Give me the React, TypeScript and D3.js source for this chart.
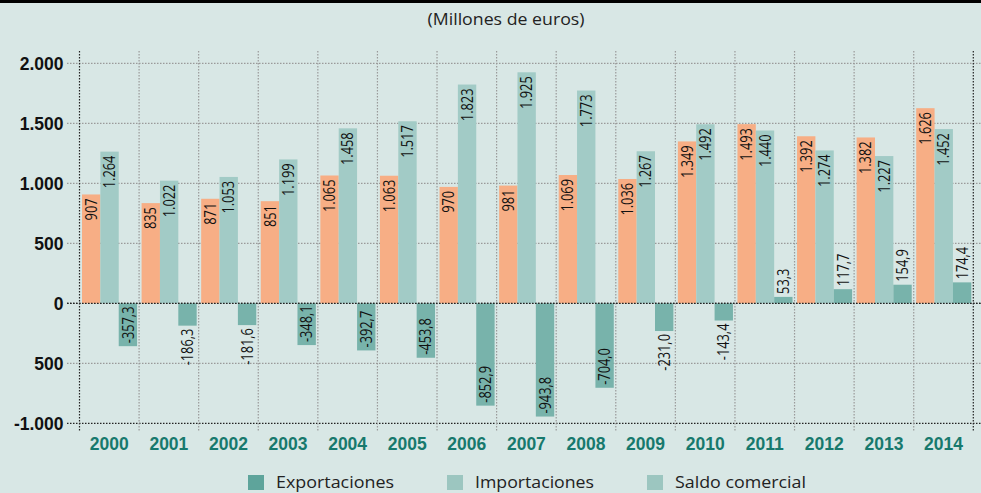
import React from 'react';
import * as d3 from 'd3';

const years = ['2000','2001','2002','2003','2004','2005','2006','2007','2008','2009','2010','2011','2012','2013','2014'];
const exportaciones = [907, 835, 871, 851, 1065, 1063, 970, 981, 1069, 1036, 1349, 1493, 1392, 1382, 1626];
const importaciones = [1264, 1022, 1053, 1199, 1458, 1517, 1823, 1925, 1773, 1267, 1492, 1440, 1274, 1227, 1452];
const saldo = [-357.3, -186.3, -181.6, -348.1, -392.7, -453.8, -852.9, -943.8, -704.0, -231.0, -143.4, 53.3, 117.7, 154.9, 174.4];
const yTicks = [2000, 1500, 1000, 500, 0, -500, -1000];
const yTickLabels = ['2.000', '1.500', '1.000', '500', '0', '500', '-1.000'];
const legendLabels = ['Exportaciones', 'Importaciones', 'Saldo comercial'];
const titleText = '(Millones de euros)';

const BG = '#d8e7e5';
const C_EXP = '#f7ae85';
const C_IMP = '#a2cbc6';
const C_SAL = '#78b3ab';
const legendColors = ['#5ea49b', '#9cc6c0', '#9cc6c0'];

export default function App() {
  const W = 981, H = 493;
  const y = d3.scaleLinear().domain([-1000, 2000]).range([423.3, 63.3]);
  const x = d3.scaleBand<string>().domain(years).range([79.5, 973.3]).padding(0);
  const bw = x.bandwidth();
  const x1 = d3.scaleBand<string>().domain(['e', 'i', 's']).range([2.5, bw - 2]).padding(0);
  const loc = d3.formatLocale({ decimal: ',', thousands: '.', grouping: [3], currency: ['', '€'], minus: '-' });
  const fInt = loc.format(',d');
  const fDec = loc.format('.1f');

  const FS = 16, SX = 0.8;
  const estLen = (s: string) => {
    let l = 0;
    for (const ch of s) {
      if (/[0-9]/.test(ch)) l += 0.572;
      else if (ch === '-') l += 0.28;
      else l += 0.22;
    }
    return l * FS * SX;
  };

  type B = { key: string; x: number; v: number; color: string; label: string };
  const bars: B[] = [];
  years.forEach((yr, i) => {
    const x0 = x(yr)!;
    bars.push({ key: yr + 'e', x: x0 + x1('e')!, v: exportaciones[i], color: C_EXP, label: fInt(exportaciones[i]) });
    bars.push({ key: yr + 'i', x: x0 + x1('i')!, v: importaciones[i], color: C_IMP, label: fInt(importaciones[i]) });
    bars.push({ key: yr + 's', x: x0 + x1('s')!, v: saldo[i], color: C_SAL, label: fDec(saldo[i]) });
  });
  const w1 = x1.bandwidth();
  const boundaries = years.map(yr => x(yr)!).concat([x(years[years.length - 1])! + bw]);

  return (
    <svg width={W} height={H} style={{ position: 'absolute', left: 0, top: 0, display: 'block' }}
      fontFamily="'Open Sans', sans-serif">
      <rect x={0} y={0} width={W} height={H} fill={BG} />
      <rect x={0} y={0} width={W} height={3} fill="#000" />
      <text x={506} y={25} textAnchor="middle" fontSize={17} fill="#222" textLength={157} lengthAdjust="spacingAndGlyphs">{titleText}</text>

      {yTicks.map((t, i) => (
        <line key={'h' + i} x1={67} x2={W} y1={y(t)} y2={y(t)}
          stroke={t === 0 || t === -1000 ? '#222' : '#9a9a9a'} strokeWidth={1.2} strokeDasharray="1.5,1.5" />
      ))}
      {boundaries.map((bx, i) => (
        <line key={'v' + i} x1={bx} x2={bx} y1={51} y2={432}
          stroke={i === 0 || i === boundaries.length - 1 ? '#222' : '#9a9a9a'} strokeWidth={1.2} strokeDasharray="1.5,1.5" />
      ))}

      {bars.map(b => {
        const y0 = y(0), yv = y(b.v);
        return <rect key={b.key} x={b.x} y={Math.min(y0, yv)} width={w1} height={Math.abs(yv - y0)} fill={b.color} />;
      })}
      <line x1={67} x2={W} y1={y(0)} y2={y(0)} stroke="#222" strokeWidth={1.2} strokeDasharray="1.5,1.5" />

      {bars.map(b => {
        const y0 = y(0), yv = y(b.v);
        const len = Math.abs(yv - y0);
        const tl = estLen(b.label);
        const inside = len >= tl + 3;
        const cx = b.x + w1 / 2;
        let ya: number, anchor: string;
        if (b.v >= 0) {
          if (inside) { ya = yv + 4; anchor = 'end'; } else { ya = yv - 3; anchor = 'start'; }
        } else {
          if (inside) { ya = yv - 3; anchor = 'start'; } else { ya = yv + 3; anchor = 'end'; }
        }
        return (
          <text key={'l' + b.key} transform={`translate(${cx},${ya}) rotate(-90) scale(${SX},1)`}
            textAnchor={anchor} dy="0.35em" fontSize={FS} fill="#111">{b.label}</text>
        );
      })}

      {yTicks.map((t, i) => (
        <text key={'yl' + i} x={63.5} y={y(t) + 6.3} textAnchor="end" fontFamily="'Liberation Sans', Arial, sans-serif"
          fontWeight="bold" fontSize={17.5} fill="#111">{yTickLabels[i]}</text>
      ))}
      {years.map(yr => (
        <text key={'xl' + yr} x={x(yr)! + bw / 2} y={449.5} textAnchor="middle" fontFamily="'Liberation Sans', Arial, sans-serif"
          fontWeight="bold" fontSize={17.5} fill="#17796d">{yr}</text>
      ))}

      {legendLabels.map((lab, i) => {
        const sx = [248, 447, 647][i];
        const tw = [118, 119, 131][i];
        return (
          <g key={'lg' + i}>
            <rect x={sx} y={475} width={16} height={15} fill={legendColors[i]} />
            <text x={sx + 28} y={488} fontSize={17} fill="#222" textLength={tw} lengthAdjust="spacingAndGlyphs">{lab}</text>
          </g>
        );
      })}
    </svg>
  );
}
